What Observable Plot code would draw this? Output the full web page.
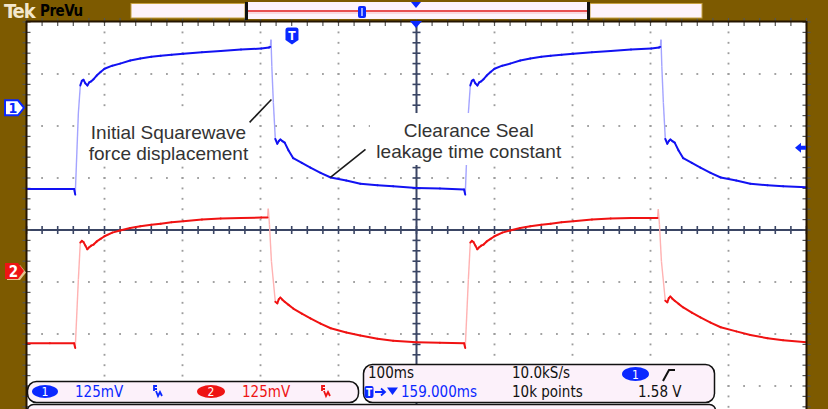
<!DOCTYPE html>
<html>
<head>
<meta charset="utf-8">
<script src="https://cdn.jsdelivr.net/npm/d3@7"></script>
<script src="https://cdn.jsdelivr.net/npm/@observablehq/plot@0.6"></script>
<style>
  html, body { margin: 0; padding: 0; background: #7d5a00; }
  #scope { position: relative; width: 828px; height: 409px; overflow: hidden; background: #7d5a00; }
  #scope > svg { position: absolute; left: 0; top: 0; }
  .ui { font-family: "DejaVu Sans Condensed", "DejaVu Sans", sans-serif; font-stretch: condensed; }
</style>
</head>
<body>
<div id="scope"></div>
<script>
// ---------------- DATA ----------------
// time in ms across the 10-division screen (100 ms/div), level in screen divisions (125 mV/div)
const ch1Time = [0, 30, 61, 62.5, 66.5, 69, 71, 73, 75.5, 78, 80.5, 83, 86, 90, 95, 100, 110, 120, 133, 146,
  160, 172, 186, 201, 225, 249, 275, 301, 311, 312.5, 313.5, 314.5, 316.5, 319, 321.5, 323.5, 325.5, 328, 331, 336,
  342, 353, 364, 377, 390, 410, 428, 450, 470, 500, 530, 561,
  562.5, 566.5, 569, 571, 573, 575.5, 578, 580.5, 583, 586, 590, 595, 600, 610, 620, 633, 646, 660, 672, 686,
  701, 725, 749, 775, 801, 811, 812.5, 813.5, 814.5, 816.5, 819, 821.5, 823.5, 825.5, 828, 831, 836, 842, 853, 864,
  877, 890, 910, 928, 950, 970, 1000];
const ch1Div = [0.79, 0.79, 0.79, 0.68, 2.25, 2.78, 2.87, 2.89, 2.82, 2.78, 2.84, 2.86, 2.90, 2.97, 3.04, 3.10, 3.16, 3.20, 3.26, 3.30,
  3.33, 3.35, 3.37, 3.39, 3.42, 3.44, 3.47, 3.49, 3.51, 3.52, 3.66, 3.15, 2.45, 1.75, 1.66, 1.71, 1.74, 1.71, 1.68, 1.53,
  1.38, 1.29, 1.20, 1.10, 1.01, 0.95, 0.89, 0.86, 0.84, 0.81, 0.80, 0.78,
  0.68, 2.25, 2.78, 2.87, 2.89, 2.82, 2.78, 2.84, 2.86, 2.90, 2.97, 3.04, 3.10, 3.16, 3.20, 3.26, 3.30, 3.33, 3.35, 3.37,
  3.39, 3.42, 3.44, 3.47, 3.49, 3.51, 3.52, 3.66, 3.15, 2.45, 1.75, 1.66, 1.71, 1.74, 1.71, 1.68, 1.53, 1.38, 1.29, 1.20,
  1.10, 1.01, 0.95, 0.89, 0.86, 0.84, 0.82];

const ch2Time = [0, 30, 61, 62.5, 66.5, 69, 71, 73, 75.5, 78, 80.5, 83, 86, 90, 95, 100, 110, 120, 133, 146,
  160, 172, 186, 201, 225, 249, 275, 301, 309, 310, 311.5, 314, 319, 321.5, 323.5, 325.5, 328, 331, 336, 342,
  353, 364, 377, 390, 410, 428, 450, 470, 500, 530, 561,
  562.5, 566.5, 569, 571, 573, 575.5, 578, 580.5, 583, 586, 590, 595, 600, 610, 620, 633, 646, 660, 672, 686,
  701, 725, 749, 775, 801, 809, 810, 811.5, 814, 819, 821.5, 823.5, 825.5, 828, 831, 836, 842, 853, 864, 877,
  890, 910, 928, 950, 970, 1000];
const ch2Div = [-2.18, -2.18, -2.18, -2.27, -0.95, -0.24, -0.21, -0.23, -0.30, -0.37, -0.33, -0.30, -0.28, -0.22, -0.17, -0.12, -0.05, -0.01, 0.04, 0.07,
  0.10, 0.12, 0.15, 0.17, 0.20, 0.22, 0.23, 0.24, 0.24, 0.41, 0.10, -0.60, -1.38, -1.41, -1.33, -1.30, -1.34, -1.38, -1.44, -1.51,
  -1.61, -1.70, -1.80, -1.89, -1.97, -2.03, -2.09, -2.13, -2.16, -2.17, -2.18,
  -2.27, -0.95, -0.24, -0.21, -0.23, -0.30, -0.37, -0.33, -0.30, -0.28, -0.22, -0.17, -0.12, -0.05, -0.01, 0.04, 0.07, 0.10, 0.12, 0.15,
  0.17, 0.20, 0.22, 0.23, 0.23, 0.23, 0.40, 0.10, -0.60, -1.36, -1.39, -1.31, -1.28, -1.32, -1.36, -1.42, -1.49, -1.59, -1.68, -1.78,
  -1.87, -1.95, -2.02, -2.08, -2.12, -2.16];

// graticule
const divisionTimes = [0, 100, 200, 300, 400, 500, 600, 700, 800, 900, 1000];
const divisionLevels = [-4, -3, -2, -1, 0, 1, 2, 3, 4];
const minorTimeStep = 20;
const minorLevelStep = 0.2;

// annotations
const noteText = ["Initial Squarewave\nforce displacement", "Clearance Seal\nleakage time constant"];
const noteTime = [182, 567];
const noteDiv = [1.68, 1.72];
const noteBoxT1 = [75, 441], noteBoxT2 = [290, 692], noteBoxV1 = [1.24, 1.24], noteBoxV2 = [2.24, 2.24];
const leaderT1 = [286, 434.6], leaderV1 = [2.07, 1.55], leaderT2 = [314, 389.7], leaderV2 = [2.51, 1.01];

// scope settings / markers
const ch1Ground = 2.34, ch2Ground = -0.80, triggerLevelDiv = 1.57;
const horizontalPositionMs = 159;   // T -> 159.000ms
const screenCenterMs = 500;
const ch1Scale = "125mV", ch2Scale = "125mV", timeBase = "100ms", sampleRate = "10.0kS/s",
      recordLength = "10k points", triggerLevel = "1.58 V", delayText = "159.000ms";

// ---------------- BUILD ----------------
const BLUE = "#1212f2", BLUE_EDGE = "#a4a4ff", RED = "#f01212", RED_EDGE = "#ffb2b2";
const UIBLUE = "#0a28ff", UIRED = "#ee1414";
const GRID = "#9c9c9c", AXIS = "#3a4564";

const minorT = d3.range(0, 1000 + 1e-6, minorTimeStep);
const minorV = d3.range(0, 40 + 1e-6, 1).map(k => -4 + k * minorLevelStep);

const vertDots = divisionTimes.filter(t => t !== 0 && t !== 1000 && t !== screenCenterMs)
  .flatMap(t => minorV.map(v => ({t, v})));
const horizDots = divisionLevels.filter(v => Math.abs(v) !== 4 && v !== 0)
  .flatMap(v => minorT.map(t => ({t, v})));

const hTick = {draw(ctx, size) { const r = Math.sqrt(size / Math.PI); ctx.moveTo(-r, 0); ctx.lineTo(r, 0); }};
const vTick = {draw(ctx, size) { const r = Math.sqrt(size / Math.PI); ctx.moveTo(0, -r); ctx.lineTo(0, r); }};

function segments(ts, vs) {
  return d3.pairs(d3.zip(ts, vs)).map(([a, b]) => ({
    t1: a[0], v1: a[1], t2: b[0], v2: b[1],
    steep: Math.abs((b[1] - a[1]) / (b[0] - a[0])) > 0.1
  }));
}
const seg1 = segments(ch1Time, ch1Div);
const seg2 = segments(ch2Time, ch2Div);
const notes = noteText.map((s, i) => ({s, t: noteTime[i], v: noteDiv[i],
  bt1: noteBoxT1[i], bt2: noteBoxT2[i], bv1: noteBoxV1[i], bv2: noteBoxV2[i],
  lt1: leaderT1[i], lv1: leaderV1[i], lt2: leaderT2[i], lv2: leaderV2[i]}));

const linkOpts = {x1: "t1", y1: "v1", x2: "t2", y2: "v2"};

const plot = Plot.plot({
  width: 828, height: 409,
  marginLeft: 26, marginRight: 22, marginTop: 21, marginBottom: 0,
  x: {domain: [0, 1000], axis: null},
  y: {domain: [-4, 4], range: [437.5, 21.5], axis: null},
  style: {background: "transparent", overflow: "hidden"},
  marks: [
    Plot.frame({fill: "white"}),
    // dotted graticule
    Plot.dot(vertDots, {x: "t", y: "v", symbol: "square", r: 1.05, fill: GRID}),
    Plot.dot(horizDots, {x: "t", y: "v", symbol: "square", r: 1.05, fill: GRID}),
    // center cross with ticks
    Plot.ruleX([screenCenterMs], {stroke: AXIS, strokeWidth: 2}),
    Plot.ruleY([0], {stroke: AXIS, strokeWidth: 2}),
    Plot.dot(minorV, {x: () => screenCenterMs, y: d => d, symbol: hTick, r: 4, stroke: AXIS, strokeWidth: 1.6, fill: "none"}),
    Plot.dot(minorT, {x: d => d, y: () => 0, symbol: vTick, r: 4, stroke: AXIS, strokeWidth: 1.6, fill: "none"}),
    // edge ticks
    Plot.dot(minorV, {x: () => 0, y: d => d, symbol: hTick, r: 4, stroke: "#555", strokeWidth: 1.2, fill: "none"}),
    Plot.dot(minorV, {x: () => 1000, y: d => d, symbol: hTick, r: 4, stroke: "#555", strokeWidth: 1.2, fill: "none"}),
    Plot.dot(minorT, {x: d => d, y: () => 4, symbol: vTick, r: 4, stroke: "#555", strokeWidth: 1.2, fill: "none"}),
    // traces: fast edges drawn dim, slow parts bright
    Plot.link(seg2.filter(d => d.steep), {...linkOpts, stroke: RED_EDGE, strokeWidth: 1.4}),
    Plot.link(seg1.filter(d => d.steep), {...linkOpts, stroke: BLUE_EDGE, strokeWidth: 1.4}),
    Plot.link(seg2.filter(d => !d.steep), {...linkOpts, stroke: RED, strokeWidth: 2, strokeLinecap: "round"}),
    Plot.link(seg1.filter(d => !d.steep), {...linkOpts, stroke: BLUE, strokeWidth: 2, strokeLinecap: "round"}),
    // annotations
    Plot.rect(notes, {x1: "bt1", x2: "bt2", y1: "bv1", y2: "bv2", fill: "white"}),
    Plot.link(notes, {x1: "lt1", y1: "lv1", x2: "lt2", y2: "lv2", stroke: "#1a1a1a", strokeWidth: 1.6}),
    Plot.text(notes, {x: "t", y: "v", text: "s", fontSize: 19, fill: "#333",
      fontFamily: "Liberation Sans, Arial, sans-serif", lineHeight: 1.12, textAnchor: "middle"}),
    // graticule border
    Plot.ruleX([0, 1000], {stroke: "#241400", strokeWidth: 2}),
    Plot.ruleY([4], {stroke: "#241400", strokeWidth: 2, dy: -0.5})
  ]
});

const host = document.getElementById("scope");
host.appendChild(plot);
const xs = plot.scale("x"), ys = plot.scale("y");

// overlay: scope UI chrome
const ov = d3.select(host).append("svg").attr("width", 828).attr("height", 409).attr("class", "ui");

// top bar
ov.append("text").attr("x", 4).attr("y", 18).attr("font-size", 20).attr("font-weight", "bold")
  .attr("letter-spacing", -1).attr("fill", "#f3e7cc").text("Tek");
ov.append("text").attr("x", 40).attr("y", 16).attr("font-size", 15).attr("font-weight", "bold")
  .attr("letter-spacing", -0.5).attr("fill", "#000").text("PreVu");
ov.append("rect").attr("x", 131).attr("y", 3.5).attr("width", 114).attr("height", 14.5).attr("fill", "#fdf3fb").attr("stroke", "#c6a040").attr("stroke-width", 1);
ov.append("rect").attr("x", 590).attr("y", 3.5).attr("width", 112).attr("height", 14.5).attr("fill", "#fdf3fb").attr("stroke", "#c6a040").attr("stroke-width", 1);
ov.append("rect").attr("x", 246).attr("y", 2).attr("width", 343).attr("height", 17).attr("fill", "#fdf3fb");
ov.append("rect").attr("x", 245).attr("y", 2).attr("width", 3).attr("height", 18).attr("fill", "#111");
ov.append("rect").attr("x", 587).attr("y", 2).attr("width", 3).attr("height", 18).attr("fill", "#111");
ov.append("line").attr("x1", 248).attr("x2", 587).attr("y1", 11).attr("y2", 11).attr("stroke", "#e01818").attr("stroke-width", 1.6);
ov.append("line").attr("x1", 248).attr("x2", 587).attr("y1", 13).attr("y2", 13).attr("stroke", "#f5c0c8").attr("stroke-width", 1);
ov.append("rect").attr("x", 358).attr("y", 6).attr("width", 8).attr("height", 12).attr("rx", 2).attr("fill", UIBLUE);
ov.append("line").attr("x1", 362).attr("x2", 362).attr("y1", 8).attr("y2", 16).attr("stroke", "white").attr("stroke-width", 1.2);
const cx = xs.apply(screenCenterMs);
ov.append("path").attr("d", `M${cx - 5},2 L${cx + 5},2 L${cx},8 Z`).attr("fill", UIBLUE);
ov.append("path").attr("d", `M${cx - 6},21 L${cx + 6},21 L${cx},28 Z`).attr("fill", UIBLUE);

// trigger position marker
const tx = xs.apply(screenCenterMs - horizontalPositionMs);
ov.append("path").attr("d", `M${tx - 6.5},30 q0,-2.5 2.5,-2.5 h8 q2.5,0 2.5,2.5 v10 l-6.5,4.5 l-6.5,-4.5 Z`).attr("fill", UIBLUE);
ov.append("text").attr("x", tx).attr("y", 40).attr("text-anchor", "middle").attr("font-size", 12).attr("font-weight", "bold").attr("fill", "white").text("T");

// trigger level arrow (right)
const ty = ys.apply(triggerLevelDiv);
ov.append("path").attr("d", `M795,${ty} L801,${ty - 5} L801,${ty - 2} L806,${ty - 2} L806,${ty + 2} L801,${ty + 2} L801,${ty + 5} Z`).attr("fill", UIBLUE);

// channel ground markers
const g1 = ys.apply(ch1Ground), g2 = ys.apply(ch2Ground);
ov.append("path").attr("d", `M5,${g1 - 7.5} L18,${g1 - 7.5} L24,${g1} L18,${g1 + 7.5} L5,${g1 + 7.5} Z`).attr("fill", "white").attr("stroke", UIBLUE).attr("stroke-width", 2);
ov.append("text").attr("x", 13).attr("y", g1 + 5).attr("text-anchor", "middle").attr("font-size", 14).attr("font-weight", "bold").attr("fill", UIBLUE).text("1");
ov.append("path").attr("d", `M7,${g2 - 6} L20,${g2 - 6} L26,${g2 + 1.5} L20,${g2 + 9} L7,${g2 + 9} Z`).attr("fill", "#e6c690");
ov.append("path").attr("d", `M5,${g2 - 8} L18,${g2 - 8} L24,${g2} L18,${g2 + 8} L5,${g2 + 8} Z`).attr("fill", UIRED);
ov.append("text").attr("x", 13.5).attr("y", g2 + 5.5).attr("text-anchor", "middle").attr("font-size", 15).attr("font-weight", "bold").attr("fill", "white").text("2");

// bottom status panels
ov.append("rect").attr("x", 27.5).attr("y", 404.5).attr("width", 688).attr("height", 20).attr("rx", 6).attr("fill", "#fcf1fa").attr("stroke", "#111").attr("stroke-width", 1.5);
ov.append("rect").attr("x", 27.5).attr("y", 381.5).attr("width", 331).attr("height", 21).attr("rx", 9).attr("fill", "#fcf1fa").attr("stroke", "#111").attr("stroke-width", 1.5);
ov.append("rect").attr("x", 363.5).attr("y", 364.5).attr("width", 351).attr("height", 38).attr("rx", 9).attr("fill", "#fcf1fa").attr("stroke", "#111").attr("stroke-width", 1.5);

ov.append("ellipse").attr("cx", 45).attr("cy", 391.5).attr("rx", 13).attr("ry", 6.5).attr("fill", UIBLUE);
ov.append("text").attr("x", 45).attr("y", 396).attr("text-anchor", "middle").attr("font-size", 12).attr("fill", "white").text("1");
ov.append("text").attr("x", 75).attr("y", 397).attr("font-size", 15).attr("fill", UIBLUE).text(ch1Scale);
ov.append("path").attr("d", "M154,385 L154,391 M154,386 L157,386 M154,389 L157,389 M156,391 L158,396 L160,392 L162,396").attr("fill", "none").attr("stroke", UIBLUE).attr("stroke-width", 1.8);
ov.append("ellipse").attr("cx", 211).attr("cy", 391.5).attr("rx", 14).attr("ry", 6.5).attr("fill", UIRED);
ov.append("text").attr("x", 211).attr("y", 396).attr("text-anchor", "middle").attr("font-size", 12).attr("fill", "white").text("2");
ov.append("text").attr("x", 242).attr("y", 397).attr("font-size", 15).attr("fill", UIRED).text(ch2Scale);
ov.append("path").attr("d", "M322,385 L322,391 M322,386 L325,386 M322,389 L325,389 M324,391 L326,396 L328,392 L330,396").attr("fill", "none").attr("stroke", UIRED).attr("stroke-width", 1.8);

ov.append("text").attr("x", 368).attr("y", 378).attr("font-size", 15).attr("fill", "#111").text(timeBase);
ov.append("rect").attr("x", 364.5).attr("y", 386).attr("width", 9).attr("height", 12).attr("rx", 2).attr("fill", UIBLUE);
ov.append("text").attr("x", 369).attr("y", 396).attr("text-anchor", "middle").attr("font-size", 10).attr("font-weight", "bold").attr("fill", "white").text("T");
ov.append("path").attr("d", "M375,392 L385,392 M381,388.5 L385,392 L381,395.5").attr("fill", "none").attr("stroke", UIBLUE).attr("stroke-width", 1.8);
ov.append("path").attr("d", "M387,387.5 L398,387.5 L392.5,395 Z").attr("fill", UIBLUE);
ov.append("text").attr("x", 401).attr("y", 397).attr("font-size", 15).attr("fill", UIBLUE).text(delayText);
ov.append("text").attr("x", 512).attr("y", 378).attr("font-size", 15).attr("fill", "#111").text(sampleRate);
ov.append("text").attr("x", 512).attr("y", 397).attr("font-size", 15).attr("fill", "#111").text(recordLength);
ov.append("ellipse").attr("cx", 635.5).attr("cy", 374).attr("rx", 13.5).attr("ry", 7).attr("fill", UIBLUE);
ov.append("text").attr("x", 635.5).attr("y", 378.5).attr("text-anchor", "middle").attr("font-size", 12).attr("fill", "white").text("1");
ov.append("path").attr("d", "M663,381 L669,370 L675,370").attr("fill", "none").attr("stroke", "#111").attr("stroke-width", 2);
ov.append("text").attr("x", 638).attr("y", 397).attr("font-size", 15).attr("fill", "#111").text(triggerLevel);
</script>
</body>
</html>
